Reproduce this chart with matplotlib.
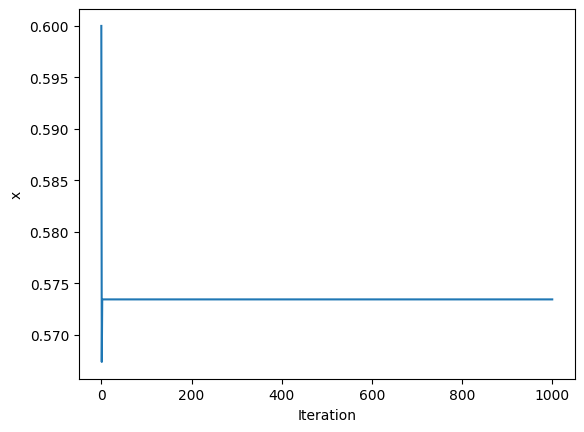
import matplotlib
matplotlib.use("Agg")
import matplotlib.pyplot as plt
import numpy as np

x_head = [0.6, 0.56738, 0.57345]
x_final = 0.57345
n_iter = 1000

x_vals = x_head + [x_final] * (n_iter + 1 - len(x_head))
iterations = np.arange(len(x_vals))

fig, ax = plt.subplots(figsize=(6.4, 4.8), dpi=100)
ax.plot(iterations, x_vals)
ax.set_xlabel('Iteration')
ax.set_ylabel('x')

fig.savefig('out.png', bbox_inches='tight')
